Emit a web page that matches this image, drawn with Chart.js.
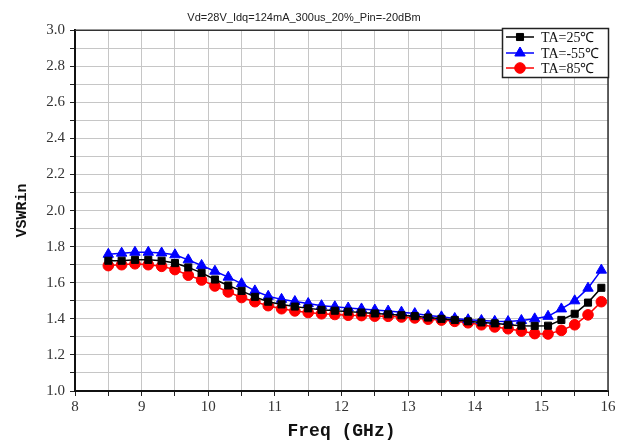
<!DOCTYPE html>
<html>
<head>
<meta charset="utf-8">
<script src="https://cdn.jsdelivr.net/npm/chart.js@4"></script>
<style>
html,body{margin:0;padding:0;background:#fff;}
#wrap{width:622px;height:446px;position:relative;}
</style>
</head>
<body>
<div id="wrap"><canvas id="c" width="622" height="446"></canvas></div>
<script>
const chartTitle = "Vd=28V_Idq=124mA_300us_20%_Pin=-20dBm";
const xTitle = "Freq (GHz)";
const yTitle = "VSWRin";
const seriesLabels = ["TA=25\u2103", "TA=-55\u2103", "TA=85\u2103"];

const freq = [8.5, 8.7, 8.9, 9.1, 9.3, 9.5, 9.7, 9.9, 10.1, 10.3, 10.5, 10.7, 10.9, 11.1, 11.3, 11.5, 11.7, 11.9, 12.1, 12.3,
              12.5, 12.7, 12.9, 13.1, 13.3, 13.5, 13.7, 13.9, 14.1, 14.3, 14.5, 14.7, 14.9, 15.1, 15.3, 15.5, 15.7, 15.9];

const ta25 = [1.722, 1.722, 1.727, 1.727, 1.722, 1.709, 1.685, 1.655, 1.618, 1.585, 1.555, 1.522, 1.495, 1.480, 1.468, 1.458, 1.450, 1.445, 1.440, 1.435,
              1.430, 1.425, 1.420, 1.415, 1.407, 1.400, 1.394, 1.386, 1.380, 1.375, 1.367, 1.362, 1.361, 1.362, 1.394, 1.428, 1.490, 1.572];

const taM55 = [1.758, 1.764, 1.769, 1.769, 1.765, 1.755, 1.727, 1.696, 1.664, 1.631, 1.595, 1.555, 1.525, 1.508, 1.496, 1.485, 1.473, 1.467, 1.460, 1.455,
               1.449, 1.443, 1.437, 1.429, 1.418, 1.411, 1.402, 1.395, 1.391, 1.386, 1.385, 1.391, 1.400, 1.414, 1.455, 1.500, 1.570, 1.670];

const ta85 = [1.695, 1.700, 1.705, 1.700, 1.691, 1.673, 1.642, 1.615, 1.582, 1.549, 1.518, 1.495, 1.473, 1.456, 1.444, 1.435, 1.428, 1.424, 1.420, 1.418,
              1.415, 1.414, 1.410, 1.405, 1.398, 1.393, 1.386, 1.378, 1.367, 1.355, 1.345, 1.332, 1.318, 1.316, 1.336, 1.367, 1.422, 1.495];

const xTickLabels = ["8", "9", "10", "11", "12", "13", "14", "15", "16"];
const yTickLabels = ["1.0", "1.2", "1.4", "1.6", "1.8", "2.0", "2.2", "2.4", "2.6", "2.8", "3.0"];

function pts(ys){ return freq.map((f,i)=>({x:f, y:ys[i]})); }

const frameLegend = {
  id: 'frameLegend',
  beforeDatasetsDraw(chart){
    const {ctx, chartArea:a} = chart;
    ctx.save();
    ctx.strokeStyle = '#333';
    ctx.lineWidth = 1.5;
    ctx.beginPath();
    ctx.moveTo(a.left, a.top); ctx.lineTo(a.right, a.top); ctx.lineTo(a.right, a.bottom);
    ctx.stroke();
    ctx.restore();
  },
  afterDraw(chart){
    const ctx = chart.ctx;
    const bx = 502.5, by = 28.5, bw = 106, bh = 49;
    ctx.save();
    ctx.fillStyle = '#fff';
    ctx.fillRect(bx, by, bw, bh);
    ctx.strokeStyle = '#222';
    ctx.lineWidth = 1.5;
    ctx.strokeRect(bx, by, bw, bh);
    const rows = [37, 53, 68];
    chart.data.datasets.forEach((ds, i) => {
      const y = rows[i];
      ctx.strokeStyle = ds.borderColor;
      ctx.lineWidth = 1.5;
      ctx.beginPath(); ctx.moveTo(506, y); ctx.lineTo(534, y); ctx.stroke();
      ctx.fillStyle = ds.backgroundColor;
      ctx.strokeStyle = ds.borderColor;
      ctx.lineWidth = 1;
      Chart.helpers.drawPoint(ctx, {pointStyle: ds.pointStyle, radius: ds.pointRadius, borderWidth: 1}, 520, y);
      ctx.fillStyle = '#111';
      ctx.font = '14px "Liberation Serif", serif';
      ctx.textBaseline = 'middle';
      ctx.textAlign = 'left';
      ctx.fillText(ds.label, 541, y + 1);
    });
    ctx.restore();
  }
};

const ctx = document.getElementById('c').getContext('2d');
new Chart(ctx, {
  type: 'line',
  data: {
    datasets: [
      {label: seriesLabels[0], data: pts(ta25), borderColor: '#000000', backgroundColor: '#000000',
       pointStyle: 'rect', pointRadius: 5, pointBorderWidth: 1, borderWidth: 1.5, tension: 0},
      {label: seriesLabels[1], data: pts(taM55), borderColor: '#0000ff', backgroundColor: '#0000ff',
       pointStyle: 'triangle', pointRadius: 6, pointBorderWidth: 1, borderWidth: 1.5, tension: 0},
      {label: seriesLabels[2], data: pts(ta85), borderColor: '#ff0000', backgroundColor: '#ff0000',
       pointStyle: 'circle', pointRadius: 5.3, pointBorderWidth: 1, borderWidth: 1.5, tension: 0}
    ]
  },
  options: {
    responsive: false,
    animation: false,
    events: [],
    layout: {padding: {left: 0, right: 14, top: 0, bottom: 0}},
    plugins: {
      legend: {display: false},
      tooltip: {enabled: false},
      title: {
        display: true, text: chartTitle, color: '#222',
        font: {family: '"Liberation Sans", Arial, sans-serif', size: 11, weight: 'normal'},
        padding: {top: 11, bottom: 6}
      }
    },
    scales: {
      x: {
        type: 'linear', min: 8, max: 16,
        afterFit(s){ s.height = 55; },
        ticks: {
          stepSize: 0.5, autoSkip: false, maxRotation: 0, padding: 2,
          color: '#333', font: {family: '"Liberation Serif", serif', size: 15},
          callback(v){ const i = xTickLabels.indexOf(String(v)); return i >= 0 ? xTickLabels[i] : ''; }
        },
        grid: {color: '#c6c6c6', lineWidth: 1, tickLength: 5, tickColor: '#222', drawTicks: true},
        border: {display: true, color: '#111', width: 2},
        title: {display: true, text: xTitle, color: '#111',
          font: {family: '"Liberation Mono", monospace', size: 18, weight: 'bold'}, padding: {top: 0}}
      },
      y: {
        type: 'linear', min: 1, max: 3,
        afterFit(s){ s.width = 75; },
        ticks: {
          stepSize: 0.1, autoSkip: false, padding: 5,
          color: '#333', font: {family: '"Liberation Serif", serif', size: 15},
          callback(v){ const t = v.toFixed(1); return yTickLabels.includes(t) ? t : ''; }
        },
        grid: {color: '#c6c6c6', lineWidth: 1, tickLength: 5, tickColor: '#222', drawTicks: true},
        border: {display: true, color: '#111', width: 2},
        title: {display: true, text: yTitle, color: '#111',
          font: {family: '"Liberation Mono", monospace', size: 15, weight: 'bold'}, padding: {top: 13, bottom: 0}}
      }
    }
  },
  plugins: [frameLegend]
});
</script>
</body>
</html>
